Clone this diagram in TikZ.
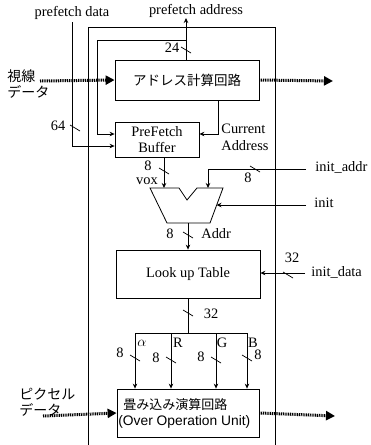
\documentclass[tikz,border=0pt]{standalone}
\usepackage{fontspec}
\setmainfont{Liberation Serif}
\newfontfamily\jpfont{Noto Sans CJK JP}
\newfontfamily\sansf{Liberation Sans}
\usetikzlibrary{arrows.meta}
\begin{document}
\begin{tikzpicture}[x=1pt,y=-1pt,
  font=\fontsize{14.4}{15}\selectfont,
  line width=0.8pt,
  box/.style={draw,rectangle,line width=0.8pt,inner sep=0pt},
  arr/.style={-{Stealth[length=5pt,width=4.5pt]}},
  thick dotted arrow/.style={line width=3pt,dash pattern=on 1pt off 0.8pt,-{Triangle[length=9pt,width=9pt,sep=0pt]}},
  lbl/.style={inner sep=0pt},
  jp/.style={inner sep=0pt,font=\jpfont\fontsize{14}{16}\selectfont,align=left},
  busmark/.pic={\draw[line width=0.7pt] (-5,-3) -- (5,3);}
]
\useasboundingbox (0,0) rectangle (370,445);
% outer frame
\coordinate (fbl) at (88,445);
\coordinate (ftr) at (275,27);
\coordinate (fbr) at (275,445);
\draw (fbl) |- (ftr) -- (fbr);

% boxes
\node[box,minimum width=144pt,minimum height=40pt,font=\jpfont\fontsize{13.5}{15}\selectfont] (addr) at (187,80) {アドレス計算回路};
\node[box,minimum width=84pt,minimum height=35pt,align=center,font=\fontsize{14.4}{16}\selectfont] (buf) at (157,139.5) {PreFetch\\Buffer};
\node[box,minimum width=144pt,minimum height=48pt] (lut) at (188,274) {Look up Table};
\node[box,minimum width=142pt,minimum height=48pt] (over) at (188,413) {};
\node[lbl,anchor=west,font=\jpfont\fontsize{13}{15}\selectfont] (overjp) at (123,405) {畳み込み演算回路};
\node[lbl,anchor=west,font=\sansf\fontsize{13.8}{15}\selectfont] (overen) at (118,422) {(Over Operation Unit)};

% multiplexer
\coordinate (m1) at (150,188);
\coordinate (m2) at (179,188);
\coordinate (m3) at (187,200);
\coordinate (m4) at (197,188);
\coordinate (m5) at (223,188);
\coordinate (m6) at (210,223);
\coordinate (m7) at (167,223);
\draw (m1) -- (m2) -- (m3) -- (m4) -- (m5) -- (m6) -- (m7) -- cycle;
\coordinate (muxin1) at (164,188);
\coordinate (muxin2) at (208,188);
\coordinate (muxinit) at (216.5,205);
\coordinate (muxout) at (188,223);

% prefetch address
\coordinate (pa) at (186,18);
\node[lbl] (palbl) at (196,11) {prefetch address};
\draw[arr] (addr.north -| pa) -- (pa);
\coordinate (loopA) at (186,40);
\coordinate (loopB) at (97,40);
\draw[arr] (loopA) -- (loopB) -- (loopB |- 0,134) -- (buf.west |- 0,134);
\pic at (186,50) {busmark};
\node[lbl] (n24) at (172,48) {24};

% prefetch data
\node[lbl] (pdlbl) at (72,13) {prefetch data};
\coordinate (pd) at (72,22);
\draw[arr] (pd) -- (72,146) -- (buf.west |- 0,146);
\pic at (75,128) {busmark};
\node[lbl] (n64) at (58,126) {64};

% current address
\coordinate (ca) at (218,100);
\draw[arr] (ca) -- (218,134) -- (buf.east |- 0,134);
\node[lbl,anchor=west,align=left,font=\fontsize{14.4}{17}\selectfont] (calbl) at (221,137) {Current\\Address};

% dotted data flow
\coordinate (sin) at (40,81);
\coordinate (sout) at (333,81);
\draw[thick dotted arrow] (sin) -- (addr.west);
\draw[thick dotted arrow] (addr.east) -- (sout);
\node[jp,anchor=west] (shisen) at (7,84) {視線\\データ};
\coordinate (pin) at (43,416);
\coordinate (pout) at (335,416);
\draw[thick dotted arrow] (pin) -- (over.west);
\draw[thick dotted arrow] (over.east) -- (pout);
\node[jp,anchor=west] (pixel) at (19,402) {ピクセル\\データ};

% buffer to mux
\draw[arr] (buf.south -| muxin1) -- (muxin1);
\pic at (164,171) {busmark};
\node[lbl] (n8a) at (148,166) {8};
\node[lbl] (vox) at (147,181) {vox};

% init_addr
\coordinate (ia) at (306,169);
\draw[arr] (ia) -- (208,169) -- (muxin2);
\pic at (255,169) {busmark};
\node[lbl] (n8b) at (248,178) {8};
\node[lbl,anchor=west] (ialbl) at (315,167) {init\_addr};

% init
\coordinate (ini) at (306,205);
\draw[arr] (ini) -- (muxinit);
\node[lbl,anchor=west] (inilbl) at (314,203) {init};

% mux to lut
\draw[arr] (muxout) -- (lut.north);
\pic at (188,235) {busmark};
\node[lbl] (n8c) at (170,234) {8};
\node[lbl,anchor=west] (addrlbl) at (201,234) {Addr};

% init_data
\coordinate (id) at (305,273);
\draw[arr] (id) -- (lut.east |- id);
\pic at (288,275) {busmark};
\node[lbl] (n32a) at (292,258) {32};
\node[lbl,anchor=west] (idlbl) at (311,272) {init\_data};

% lut to bus
\coordinate (busc) at (188,333);
\draw (lut.south) -- (busc);
\pic at (188,313) {busmark};
\node[lbl] (n32b) at (211,314) {32};
\coordinate (busl) at (135,333);
\coordinate (busr) at (247,333);
\draw (busl) -- (busr);
\foreach \x/\nm in {135/a,171/r,216/g,247/b}{
  \coordinate (bus\nm) at (\x,333);
  \draw[arr] (bus\nm) -- (over.north -| bus\nm);
}
\node[lbl] (alpha) at (142,343) {$\alpha$};
\node[lbl] (rl) at (178,343) {R};
\node[lbl] (gl) at (222,343) {G};
\node[lbl] (bl) at (253,343) {B};
\pic at (135,358) {busmark};
\pic at (171,360) {busmark};
\pic at (216,360) {busmark};
\pic at (247,358) {busmark};
\node[lbl] (e1) at (120,353) {8};
\node[lbl] (e2) at (156,358) {8};
\node[lbl] (e3) at (201,357) {8};
\node[lbl] (e4) at (258,355) {8};
\end{tikzpicture}
\end{document}
